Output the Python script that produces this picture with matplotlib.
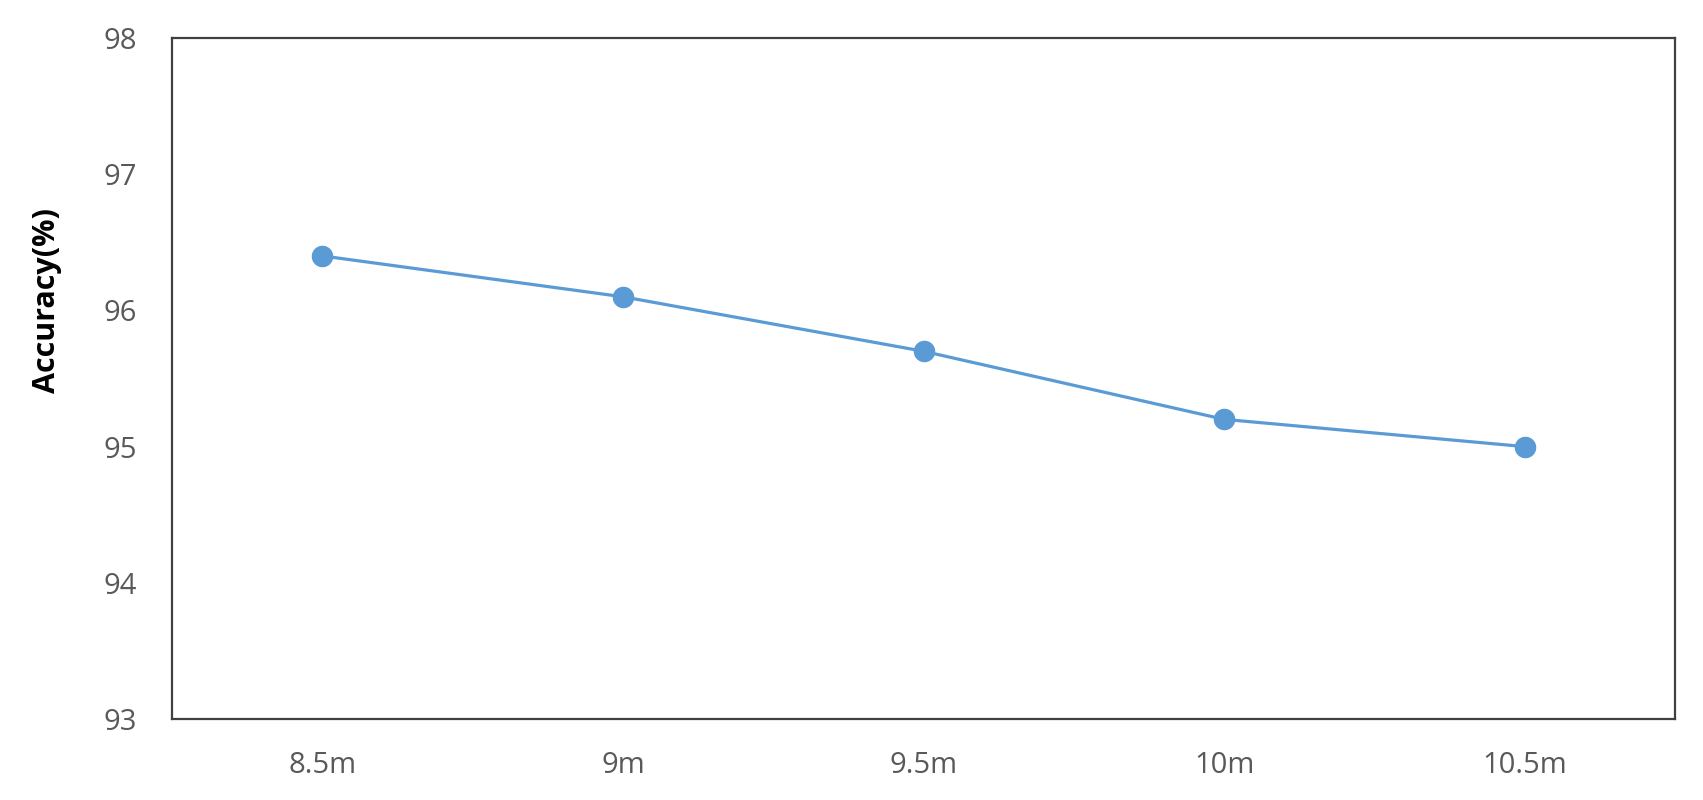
import matplotlib
matplotlib.use('Agg')
import matplotlib.pyplot as plt

# Font
plt.rcParams['font.family'] = ['Open Sans', 'DejaVu Sans']

# Data
distances = ['8.5m', '9m', '9.5m', '10m', '10.5m']
accuracy = [96.4, 96.1, 95.7, 95.2, 95.0]
y_ticks = [93, 94, 95, 96, 97, 98]

fig = plt.figure(figsize=(17.03, 8.0), dpi=100)
ax = fig.add_axes([172 / 1703, 1 - 719 / 800, (1675 - 172) / 1703, (719 - 38) / 800])

x = range(len(distances))
ax.plot(x, accuracy, color='#5B9BD5', linewidth=2.3, marker='o',
        markersize=14.5, markerfacecolor='#5B9BD5', markeredgecolor='#5B9BD5')

ax.set_xlim(-0.5, len(distances) - 0.5)
ax.set_ylim(93, 98)
ax.set_xticks(list(x))
ax.set_xticklabels(distances)
ax.set_yticks(y_ticks)

ax.tick_params(axis='both', length=0, labelsize=21, labelcolor='#595959')
ax.tick_params(axis='y', pad=25)
ax.tick_params(axis='x', pad=23)

for spine in ax.spines.values():
    spine.set_color('#404040')
    spine.set_linewidth(1.6)

# y label sits a bit above the axes centre in the original
ax.set_ylabel('Accuracy(%)', fontsize=22, fontweight='bold', color='black')
ax.yaxis.set_label_coords(-0.073, 0.615)

plt.savefig('out.png', dpi=100, facecolor='white')
plt.close()
